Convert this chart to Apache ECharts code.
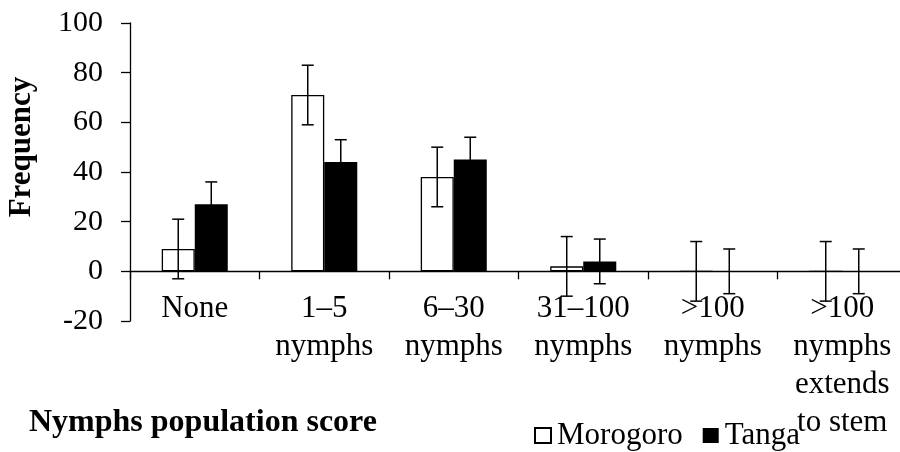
<!DOCTYPE html>
<html>
<head>
<meta charset="utf-8">
<script src="https://cdn.jsdelivr.net/npm/echarts@6/dist/echarts.min.js"></script>
<style>html,body{margin:0;padding:0;background:#fff}#c{width:900px;height:452px}</style>
</head>
<body>
<div id="c"></div>
<script>
const categories = ['None', '1–5\nnymphs', '6–30\nnymphs', '31–100\nnymphs', '>100\nnymphs', '>100\nnymphs\nextends\nto stem'];
const morogoro = [9, 71, 38, 2, 0, 0];
const tanga = [27, 44, 45, 4, 0, 0];
const morogoroErr = [12, 12, 12, 12, 12, 12];
const tangaErr = [9, 9, 9, 9, 9, 9];
const yTicks = { min: -20, max: 100, interval: 20 };

const GAP = 0.49;
const FONT = 'Liberation Serif, Times New Roman, serif';

function errData(vals, errs) {
  return vals.map((v, i) => [i, v - errs[i], v + errs[i]]);
}
function errSeries(name, vals, errs, side) {
  return {
    type: 'custom',
    name: name + ' error',
    z: 5,
    silent: true,
    encode: { x: 0, y: [1, 2] },
    data: errData(vals, errs),
    renderItem: function (params, api) {
      const x = api.value(0), lo = api.value(1), hi = api.value(2);
      const band = api.size([1, 0])[0];
      const barW = band * (1 - GAP) / 2;
      const pLo = api.coord([x, lo]);
      const pHi = api.coord([x, hi]);
      const cx = pLo[0] + side * barW / 2;
      const cap = 6;
      const st = { stroke: '#000', lineWidth: 1.5 };
      return {
        type: 'group',
        children: [
          { type: 'line', shape: { x1: cx, y1: pLo[1], x2: cx, y2: pHi[1] }, style: st },
          { type: 'line', shape: { x1: cx - cap, y1: pLo[1], x2: cx + cap, y2: pLo[1] }, style: st },
          { type: 'line', shape: { x1: cx - cap, y1: pHi[1], x2: cx + cap, y2: pHi[1] }, style: st }
        ]
      };
    }
  };
}

const chart = echarts.init(document.getElementById('c'));
chart.setOption({
  animation: false,
  backgroundColor: '#fff',
  grid: { left: 130, top: 23, width: 777, height: 298, containLabel: false, outerBoundsMode: 'none' },
  legend: {
    data: ['Morogoro', 'Tanga'],
    left: 534, top: 420, padding: 0,
    itemWidth: 16, itemHeight: 15, itemGap: 20,
    icon: 'rect',
    textStyle: { fontFamily: FONT, fontSize: 31, color: '#000', padding: [0, 0, 0, 1] }
  },
  xAxis: {
    type: 'category',
    data: categories,
    axisLine: { onZero: true, lineStyle: { color: '#000', width: 1.3 } },
    axisTick: { show: true, length: 8, lineStyle: { color: '#000', width: 1.3 } },
    axisLabel: { interval: 0, margin: -31, fontFamily: FONT, fontSize: 31, lineHeight: 38, color: '#000' },
    splitLine: { show: false }
  },
  yAxis: {
    type: 'value',
    min: yTicks.min, max: yTicks.max, interval: yTicks.interval,
    axisLine: { show: true, lineStyle: { color: '#000', width: 1.3 } },
    axisTick: { show: true, length: 9, lineStyle: { color: '#000', width: 1.3 } },
    axisLabel: { margin: 27, fontFamily: FONT, fontSize: 30, color: '#000' },
    splitLine: { show: false }
  },
  graphic: [
    { type: 'text', x: 22, y: 147, rotation: Math.PI / 2,
      style: { text: 'Frequency', fontFamily: FONT, fontWeight: 'bold', fontSize: 31, fill: '#000', align: 'center', verticalAlign: 'middle' } },
    { type: 'text', x: 29, y: 423,
      style: { text: 'Nymphs population score', fontFamily: FONT, fontWeight: 'bold', fontSize: 32, fill: '#000', align: 'left', verticalAlign: 'middle' } }
  ],
  series: [
    { type: 'bar', name: 'Morogoro', data: morogoro, barGap: '0%', barCategoryGap: (GAP * 100) + '%',
      itemStyle: { color: '#fff', borderColor: '#000', borderWidth: 1.3 } },
    { type: 'bar', name: 'Tanga', data: tanga, barGap: '0%', barCategoryGap: (GAP * 100) + '%',
      itemStyle: { color: '#000', borderColor: '#000', borderWidth: 0 } },
    errSeries('Morogoro', morogoro, morogoroErr, -1),
    errSeries('Tanga', tanga, tangaErr, 1)
  ]
});
</script>
</body>
</html>
